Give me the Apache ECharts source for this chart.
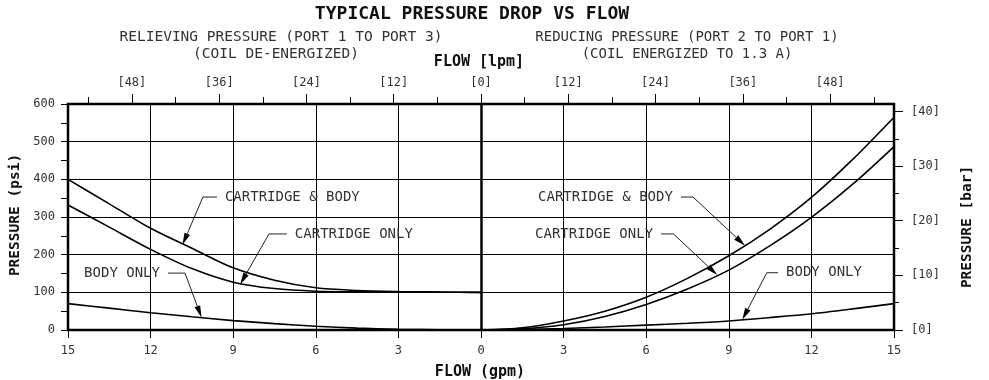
<!DOCTYPE html>
<html>
<head>
<meta charset="utf-8">
<script src="https://cdn.jsdelivr.net/npm/echarts@6/dist/echarts.min.js"></script>
<style>html,body{margin:0;padding:0;background:#fff}#c{width:989px;height:380px}</style>
</head>
<body>
<div id="c"></div>
<script>
// ---- data (flow in gpm, pressure in psi) ----
var flowRelieving = [-15, -13.5, -12, -10.5, -9, -7.5, -6, -4.5, -3, -1.5, 0];
var relCartBody   = [400, 335, 270, 217, 165, 132, 112, 105, 102, 100.5, 100];
var relCartOnly   = [332, 273, 214, 163, 127, 110, 103, 101.5, 101, 100.5, 100];
var relBodyOnly   = [70, 58, 46, 35, 25, 17, 10, 5, 2, 0.5, 0];

var flowReducing  = [0, 1.5, 3, 4.5, 6, 7.5, 9, 10.5, 12, 13.5, 15];
var redCartBody   = [0, 6, 24, 50, 87, 137, 197, 268, 352, 453, 565];
var redCartOnly   = [0, 3, 14, 36, 68, 109, 159, 224, 299, 387, 487];
var redBodyOnly   = [0, 1, 4, 8, 13, 18, 24, 33, 43, 56, 70];

var lpmMajorTicks = [-48, -36, -24, -12, 0, 12, 24, 36, 48];
var lpmMinorTicks = [-54, -42, -30, -18, -6, 6, 18, 30, 42, 54];
var barMajorTicks = [0, 10, 20, 30, 40];
var barMinorTicks = [5, 15, 25, 35];

var LPM_PER_GPM = 3.78541;
var PSI_PER_BAR = 14.5038;

// annotations in data units
var annotations = [
  {label: 'CARTRIDGE & BODY', at: [-9.30, 353], align: 'left',  elbow: [-10.10, 353], tip: [-10.84, 226]},
  {label: 'CARTRIDGE ONLY',   at: [-6.76, 255], align: 'left',  elbow: [-7.70, 255],  tip: [-8.75, 121]},
  {label: 'BODY ONLY',        at: [-11.66, 151], align: 'right', elbow: [-10.75, 151], tip: [-10.15, 33]},
  {label: 'CARTRIDGE & BODY', at: [6.97, 353],  align: 'right', elbow: [7.70, 353],   tip: [9.59, 224]},
  {label: 'CARTRIDGE ONLY',   at: [6.25, 255],  align: 'right', elbow: [6.99, 255],   tip: [8.58, 146]},
  {label: 'BODY ONLY',        at: [11.08, 152], align: 'left',  elbow: [10.38, 152],  tip: [9.49, 27]}
];

function zip(xs, ys) { return xs.map(function (x, i) { return [x, ys[i]]; }); }

var MONO = '"DejaVu Sans Mono", monospace';
var TXT = '#333';
var chart = echarts.init(document.getElementById('c'), null, {renderer: 'canvas'});

var lpmMax = 15 * LPM_PER_GPM;
var barMax = 600 / PSI_PER_BAR;

function line(data, withCenter) {
  var s = {
    type: 'line', data: data, xAxisIndex: 0, yAxisIndex: 0,
    showSymbol: false, symbol: 'none', smooth: 0.3,
    lineStyle: {color: '#000', width: 1.6}, silent: true, z: 5
  };
  if (withCenter) {
    s.markLine = {silent: true, symbol: 'none', label: {show: false},
      lineStyle: {color: '#000', width: 2.5, type: 'solid'}, data: [{xAxis: 0}]};
  }
  return s;
}

var noLine = {show: false, onZero: false};

chart.setOption({
  animation: false,
  backgroundColor: '#fff',
  grid: {left: 68, right: 95, top: 104, bottom: 50, show: true, borderColor: '#000', borderWidth: 2.5, backgroundColor: 'transparent'},
  xAxis: [
    {type: 'value', position: 'bottom', min: -15, max: 15, interval: 3,
      axisLine: noLine, axisTick: {show: true, length: 8, lineStyle: {color: '#000', width: 1}},
      axisLabel: {color: TXT, fontFamily: MONO, fontSize: 12, margin: 15, formatter: function (v) { return String(Math.abs(v)); }},
      splitLine: {show: true, lineStyle: {color: '#000', width: 1}}},
    {type: 'value', position: 'top', min: -lpmMax, max: lpmMax,
      axisLine: noLine, splitLine: {show: false},
      axisTick: {show: true, length: 10, customValues: lpmMajorTicks, lineStyle: {color: '#000', width: 1}},
      axisLabel: {show: true, customValues: lpmMajorTicks, color: TXT, fontFamily: MONO, fontSize: 12, margin: 15,
        formatter: function (v) { return '[' + Math.abs(v) + ']'; }}},
    {type: 'value', position: 'top', min: -lpmMax, max: lpmMax,
      axisLine: noLine, splitLine: {show: false}, axisLabel: {show: false},
      axisTick: {show: true, length: 7, customValues: lpmMinorTicks, lineStyle: {color: '#000', width: 1}}}
  ],
  yAxis: [
    {type: 'value', position: 'left', min: 0, max: 600, interval: 100,
      axisLine: noLine,
      axisTick: {show: true, length: 7, lineStyle: {color: '#000', width: 1}},
      minorTick: {show: true, splitNumber: 2, length: 7, lineStyle: {color: '#000', width: 1}},
      axisLabel: {color: TXT, fontFamily: MONO, fontSize: 12, margin: 13},
      splitLine: {show: true, lineStyle: {color: '#000', width: 1}}},
    {type: 'value', position: 'right', min: 0, max: barMax,
      axisLine: noLine, splitLine: {show: false},
      axisTick: {show: true, length: 9, customValues: barMajorTicks, lineStyle: {color: '#000', width: 1}},
      axisLabel: {show: true, customValues: barMajorTicks, color: TXT, fontFamily: MONO, fontSize: 12, margin: 17,
        formatter: function (v) { return '[' + v + ']'; }}},
    {type: 'value', position: 'right', min: 0, max: barMax,
      axisLine: noLine, splitLine: {show: false}, axisLabel: {show: false},
      axisTick: {show: true, length: 5, customValues: barMinorTicks, lineStyle: {color: '#000', width: 1}}}
  ],
  series: [
    line(zip(flowRelieving, relCartBody), true),
    line(zip(flowRelieving, relCartOnly)),
    line(zip(flowRelieving, relBodyOnly)),
    line(zip(flowReducing, redCartBody)),
    line(zip(flowReducing, redCartOnly)),
    line(zip(flowReducing, redBodyOnly))
  ]
});

// titles and annotations
var g = [];
function txt(s, x, y, size, bold, rot, color) {
  g.push({type: 'text', x: x, y: y, rotation: rot || 0, z: 20, silent: true,
    style: {text: s, fill: color || TXT, font: (bold ? 'bold ' : '') + size + 'px ' + MONO, align: 'center', verticalAlign: 'middle'}});
}
txt('TYPICAL PRESSURE DROP VS FLOW', 472, 14, 18, true, 0, '#111');
txt('RELIEVING PRESSURE (PORT 1 TO PORT 3)', 281, 37, 14.5, false);
txt('(COIL DE-ENERGIZED)', 276, 54, 14.5, false);
txt('REDUCING PRESSURE (PORT 2 TO PORT 1)', 687, 37, 14, false);
txt('(COIL ENERGIZED TO 1.3 A)', 687, 54, 14, false);
txt('FLOW [lpm]', 479, 62, 15, true, 0, '#111');
txt('FLOW (gpm)', 480, 372, 15, true, 0, '#111');
txt('PRESSURE (psi)', 15, 215, 14.5, true, Math.PI / 2, '#111');
txt('PRESSURE [bar]', 967, 227, 14.5, true, Math.PI / 2, '#111');

var toPx = function (p) { return chart.convertToPixel({xAxisIndex: 0, yAxisIndex: 0}, p); };
annotations.forEach(function (a) {
  var t = toPx(a.at), e = toPx(a.elbow), tip = toPx(a.tip);
  var gap = 8;
  var hx = a.align === 'left' ? t[0] - gap : t[0] + gap;
  g.push({type: 'text', x: t[0], y: t[1], z: 20, silent: true,
    style: {text: a.label, fill: TXT, font: '14px ' + MONO, align: a.align, verticalAlign: 'middle'}});
  var dx = tip[0] - e[0], dy = tip[1] - e[1], L = Math.sqrt(dx * dx + dy * dy);
  var ux = dx / L, uy = dy / L, len = 12, hw = 3;
  var base = [tip[0] - ux * len, tip[1] - uy * len];
  g.push({type: 'polyline', z: 20, silent: true,
    shape: {points: [[hx, e[1]], e, base]},
    style: {stroke: '#222', lineWidth: 1, fill: null}});
  g.push({type: 'polygon', z: 21, silent: true,
    shape: {points: [tip, [base[0] - uy * hw, base[1] + ux * hw], [base[0] + uy * hw, base[1] - ux * hw]]},
    style: {fill: '#000'}});
});
chart.setOption({graphic: g});
</script>
</body>
</html>
